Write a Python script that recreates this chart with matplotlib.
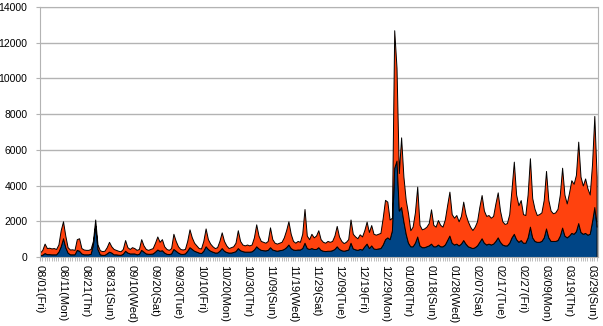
import matplotlib
matplotlib.use("Agg")
import matplotlib.pyplot as plt
import numpy as np

plt.rcParams['font.family'] = ['Liberation Sans', 'DejaVu Sans']

# daily counts, 08/01 .. 03/31
blue_series = [
    100, 130, 220, 160, 160, 150, 150, 150, 300, 600,
    1050, 550, 250, 150, 150, 150, 400, 350, 200, 150,
    150, 150, 180, 700, 1750, 450, 150, 120, 120, 200,
    300, 250, 150, 150, 130, 120, 180, 350, 250, 200,
    200, 200, 150, 180, 400, 300, 200, 180, 180, 200,
    300, 420, 350, 380, 250, 180, 160, 200, 450, 350,
    250, 180, 170, 200, 350, 550, 450, 350, 300, 250,
    220, 350, 600, 450, 350, 300, 250, 250, 350, 500,
    350, 280, 250, 250, 280, 330, 500, 380, 330, 300,
    300, 300, 320, 420, 600, 480, 400, 380, 370, 400,
    550, 420, 380, 350, 380, 400, 450, 550, 700, 500,
    420, 400, 420, 420, 500, 800, 500, 450, 500, 450,
    450, 550, 400, 350, 330, 350, 350, 380, 450, 600,
    450, 380, 350, 380, 420, 800, 480, 430, 400, 450,
    420, 600, 750, 500, 650, 480, 450, 480, 500, 700,
    1000, 1100, 1000, 1500, 5000, 5400, 2600, 2800, 2000, 1300,
    800, 600, 600, 800, 1150, 650, 550, 550, 600, 650,
    750, 600, 600, 700, 600, 600, 700, 950, 1200, 800,
    700, 750, 650, 750, 950, 750, 600, 550, 500, 550,
    650, 850, 1050, 800, 700, 750, 700, 750, 900, 1100,
    850, 700, 650, 650, 800, 1100, 1300, 1000, 850, 950,
    800, 800, 1100, 1700, 1100, 900, 850, 850, 900, 1100,
    1600, 1100, 900, 900, 900, 950, 1200, 1650, 1200, 1100,
    1200, 1350, 1300, 1450, 1900, 1400, 1300, 1350, 1250, 1300,
    2000, 2800, 1700,
]

total_series = [
    250, 400, 750, 500, 520, 480, 500, 450, 700, 1500,
    2000, 1200, 550, 420, 430, 400, 1000, 1050, 500, 420,
    400, 400, 450, 900, 2100, 700, 380, 330, 350, 550,
    850, 600, 450, 400, 350, 320, 450, 950, 550, 450,
    550, 500, 400, 450, 1000, 650, 450, 400, 450, 500,
    800, 1150, 850, 1000, 600, 450, 400, 500, 1300, 900,
    600, 450, 420, 450, 900, 1550, 1100, 800, 650, 500,
    480, 900, 1600, 1000, 750, 600, 500, 550, 900, 1380,
    900, 650, 500, 550, 600, 800, 1500, 900, 700, 650,
    700, 650, 700, 1100, 1830, 1200, 900, 850, 800, 900,
    1660, 1000, 800, 750, 800, 850, 1100, 1500, 2000, 1300,
    900, 800, 900, 850, 1300, 2690, 1200, 1000, 1300, 1100,
    1200, 1500, 1000, 850, 800, 900, 850, 900, 1200, 1740,
    1150, 900, 780, 850, 1000, 2100, 1300, 1150, 1050, 1270,
    1150, 1500, 1980, 1400, 1790, 1300, 1250, 1300, 1350, 2200,
    3200, 3100, 2100, 2200, 12700, 10600, 4700, 6700, 4500, 3200,
    2450, 1500, 1700, 2500, 3940, 1800, 1550, 1600, 1700, 1900,
    2670, 1800, 1700, 2070, 1800, 1700, 2100, 2900, 3660, 2400,
    2200, 2350, 2000, 2300, 3100, 2400, 2000, 1700, 1510, 1700,
    2000, 2800, 3470, 2600, 2300, 2350, 2200, 2300, 3000, 3620,
    2600, 2000, 1850, 1900, 2400, 3800, 5340, 3500, 2900, 3190,
    2400, 2350, 3500, 5530, 3300, 2700, 2350, 2400, 2500, 3200,
    4820, 3200, 2600, 2450, 2500, 2700, 3500, 5000, 3500, 3000,
    3600, 4300, 4100, 4600, 6460, 4500, 4000, 4400, 3850, 3500,
    5200, 7900, 4500,
]

tick_labels = [
    '08/01(Fri)', '08/11(Mon)', '08/21(Thr)', '08/31(Sun)', '09/10(Wed)',
    '09/20(Sat)', '09/30(Tue)', '10/10(Fri)', '10/20(Mon)', '10/30(Thr)',
    '11/09(Sun)', '11/19(Wed)', '11/29(Sat)', '12/09(Tue)', '12/19(Fri)',
    '12/29(Mon)', '01/08(Thr)', '01/18(Sun)', '01/28(Wed)', '02/07(Sat)',
    '02/17(Tue)', '02/27(Fri)', '03/09(Mon)', '03/19(Thr)', '03/29(Sun)',
]

days = np.arange(len(total_series))
lower = np.array(blue_series)
upper = np.array(total_series) - lower

fig = plt.figure(figsize=(6.03, 3.26), dpi=100)
ax = fig.add_axes([40 / 603, 69 / 326, 558 / 603, 250 / 326])

ax.stackplot(days, lower, upper, colors=['#004586', '#ff420e'],
             edgecolor='black', linewidth=0.7)

ax.set_xlim(0, len(days) - 0.4)
ax.set_ylim(0, 14000)
ax.set_yticks(np.arange(0, 14001, 2000))
ax.yaxis.grid(True, color='#b3b3b3', linewidth=1)
ax.set_axisbelow(True)

ax.set_xticks(days[::10])
ax.set_xticklabels(tick_labels, rotation=-90, fontsize=8, va='top', ha='center')
ax.set_xticks(days, minor=True)
ax.tick_params(axis='x', which='both', length=3, color='#b3b3b3', pad=3)
ax.tick_params(axis='y', length=3, color='#b3b3b3', labelsize=7.5, pad=6)

for s in ax.spines.values():
    s.set_color('#b3b3b3')

fig.savefig('out.png', dpi=100)
